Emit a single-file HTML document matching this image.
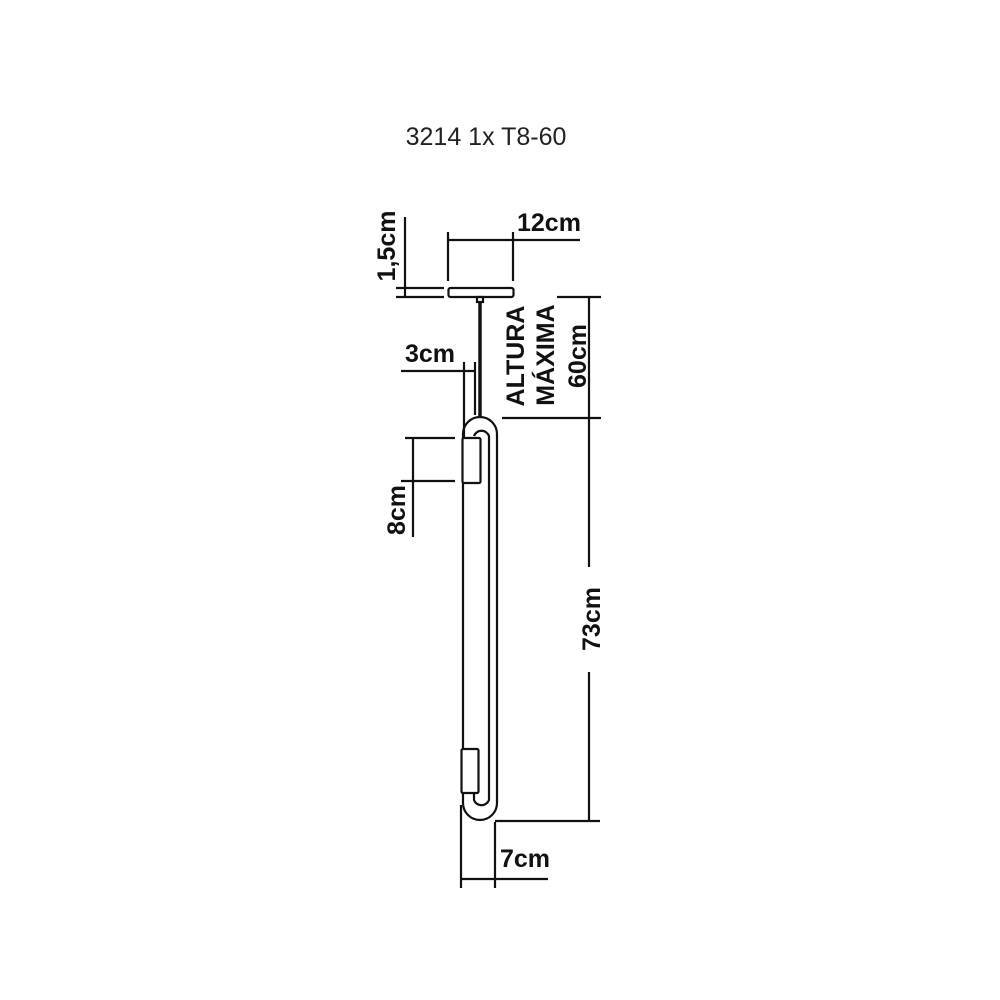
<!DOCTYPE html>
<html><head><style>body{margin:0;background:#fff}svg{display:block}</style></head>
<body>
<svg width="1000" height="1000" viewBox="0 0 1000 1000" xmlns="http://www.w3.org/2000/svg">
<rect width="1000" height="1000" fill="#fff"/>
<text x="486" y="145" font-family="Liberation Sans, sans-serif" font-size="25" text-anchor="middle" fill="#222">3214 1x T8-60</text>
<g stroke="#111" stroke-width="2.2" fill="none">
<!-- canopy -->
<rect x="448.5" y="288" width="65" height="9" rx="2"/>
<rect x="477" y="297" width="6" height="5"/>
<line x1="480" y1="302" x2="480" y2="418" stroke-width="3.5"/>
<!-- loop -->
<path d="M463 805 L463 434 A17 17 0 0 1 497 434 L497 803 A17 17 0 0 1 463 803"/>
<path d="M474 436 A8 8 0 0 1 489 436 L489 800 A8 8 0 0 1 474 800 L474 793"/>
<rect x="462.5" y="438" width="18" height="45" rx="1.5" fill="#fff"/>
<rect x="461.5" y="749" width="17" height="44" rx="1.5" fill="#fff"/>
<!-- 12cm -->
<line x1="448" y1="232" x2="448" y2="281"/>
<line x1="513" y1="232" x2="513" y2="281"/>
<line x1="448" y1="240" x2="580" y2="240"/>
<!-- 1,5cm -->
<line x1="405" y1="217" x2="405" y2="298"/>
<line x1="396" y1="288" x2="444" y2="288"/>
<line x1="396" y1="297" x2="444" y2="297"/>
<!-- 3cm -->
<line x1="401" y1="371" x2="475" y2="371"/>
<line x1="464" y1="362" x2="464" y2="437"/>
<line x1="475" y1="362" x2="475" y2="415"/>
<!-- 8cm -->
<line x1="405" y1="438" x2="455" y2="438"/>
<line x1="401" y1="481" x2="455" y2="481"/>
<line x1="413" y1="438" x2="413" y2="537"/>
<!-- 60/73 -->
<line x1="557" y1="297" x2="601" y2="297"/>
<line x1="589" y1="297" x2="589" y2="567"/>
<line x1="502" y1="418" x2="601" y2="418"/>
<line x1="589" y1="672" x2="589" y2="821"/>
<line x1="495" y1="821" x2="600" y2="821"/>
<!-- 7cm -->
<line x1="461" y1="805" x2="461" y2="888"/>
<line x1="495" y1="822" x2="495" y2="888"/>
<line x1="461" y1="879" x2="548" y2="879"/>
</g>
<g font-family="Liberation Sans, sans-serif" font-weight="bold" fill="#111" font-size="25">
<text x="517" y="231">12cm</text>
<text x="405" y="362">3cm</text>
<text x="500" y="867">7cm</text>
<text transform="translate(395,246) rotate(-90)" text-anchor="middle">1,5cm</text>
<text transform="translate(405,510) rotate(-90)" text-anchor="middle">8cm</text>
<text transform="translate(600,619) rotate(-90)" text-anchor="middle">73cm</text>
<text transform="translate(524,356) rotate(-90)" text-anchor="middle">ALTURA</text>
<text transform="translate(554,355) rotate(-90)" text-anchor="middle">MÁXIMA</text>
<text transform="translate(586,356) rotate(-90)" text-anchor="middle">60cm</text>
</g>
</svg>
</body></html>
